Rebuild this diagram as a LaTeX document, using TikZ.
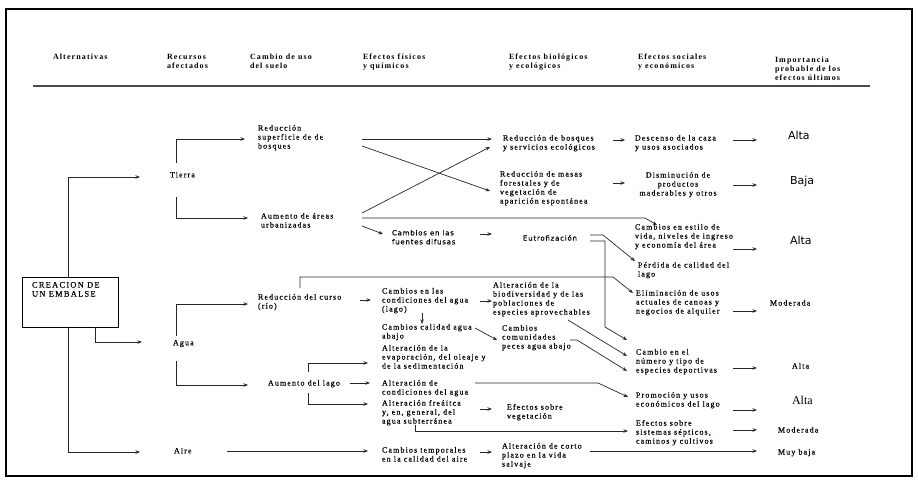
\documentclass[tikz,border=0pt]{standalone}
\usepackage{fontspec}
\setmainfont{Liberation Serif}
\newfontfamily\bodyf[LetterSpace=14,FakeBold=0.35]{Liberation Serif}
\newfontfamily\headf[LetterSpace=14]{Liberation Serif}
\newfontfamily\sansf[LetterSpace=11,FakeBold=0.3]{DejaVu Sans}
\newfontfamily\bigsansf{DejaVu Sans}
\usetikzlibrary{arrows.meta}
\begin{document}
\begin{tikzpicture}[x=1pt,y=-1pt,
  txt/.style={inner sep=0pt, outer sep=0pt, anchor=north west, align=left, font=\bodyf\fontsize{8}{9}\selectfont},
  hd/.style={txt, font=\headf\bfseries\fontsize{8}{9}\selectfont},
  sans/.style={txt, font=\sansf\fontsize{7}{9}\selectfont},
  bigsans/.style={txt, font=\bigsansf\fontsize{11}{13}\selectfont},
  bigserif/.style={txt, font=\rmfamily\fontsize{12}{14}\selectfont},
  ln/.style={line width=0.7pt, draw=black!85},
  arr/.style={ln, -{Stealth[length=4.5pt,width=3.5pt]}},
]
\useasboundingbox (0,0) rectangle (918,481);
\draw[line width=1.3pt] (6,9) rectangle (912,476);

% headers
\node[hd] (h1) at (53,54) {Alternativas};
\node[hd] (h2) at (167,54) {Recursos\\afectados};
\node[hd] (h3) at (250,54) {Cambio de uso\\del suelo};
\node[hd] (h4) at (363,54) {Efectos físicos\\y químicos};
\node[hd] (h5) at (509,54) {Efectos biológicos\\y ecológicos};
\node[hd] (h6) at (638,54) {Efectos sociales\\y económicos};
\node[hd] (h7) at (775,57) {Importancia\\probable de los\\efectos últimos};
\coordinate (rl) at (33,86);
\coordinate (rr) at (870,86);
\draw[line width=1.6pt, black!70] (rl) -- (rr);

% main box
\node[draw, line width=0.9pt, minimum width=96pt, minimum height=50pt, inner sep=0pt] (box) at (70,302) {};
\node[txt, font=\bodyf\fontsize{8.5}{9}\selectfont] (boxt) at (32,282) {CREACION DE\\UN EMBALSE};

% resources
\node[txt] (tierra) at (170,172) {Tierra};
\node[txt] (agua) at (173,340) {Agua};
\node[txt] (aire) at (174,448) {Aire};

% land use
\node[txt] (redsup) at (258,125) {Reducción\\superficie de de\\bosques};
\node[txt] (aumurb) at (261,213) {Aumento de áreas\\urbanizadas};
\node[txt] (redcur) at (258,294) {Reducción del curso\\(río)};
\node[txt] (aumlago) at (268,380) {Aumento del lago};

% physical
\node[sans] (fuentes) at (392,230) {Cambios en las\\fuentes difusas};
\node[txt] (condag) at (382,288) {Cambios en las\\condiciones del agua\\(lago)};
\node[txt] (calag) at (382,324) {Cambios calidad agua\\abajo};
\node[txt] (evap) at (382,345) {Alteración de la\\evaporación, del oleaje y\\de la sedimentación};
\node[txt] (altcond) at (382,380) {Alteración de\\condiciones del agua};
\node[txt] (freat) at (382,400) {Alteración freáitca\\y, en, general, del\\agua subterránea};
\node[txt] (temp) at (382,447) {Cambios temporales\\en la calidad del aire};

% biological
\node[txt] (redbos) at (503,135) {Reducción de bosques\\y servicios ecológicos};
\node[txt] (redmas) at (500,171) {Reducción de masas\\forestales y de\\vegetación de\\aparición espontánea};
\node[sans] (eutro) at (523,235) {Eutrofización};
\node[txt] (biod) at (493,282) {Alteración de la\\biodiversidad y de las\\poblaciones de\\especies aprovechables};
\node[txt] (peces) at (502,325) {Cambios\\comunidades\\peces agua abajo};
\node[txt] (efveg) at (507,404) {Efectos sobre\\vegetación};
\node[txt] (corto) at (502,443) {Alteración de corto\\plazo en la vida\\salvaje};

% social
\node[txt] (desc) at (635,135) {Descenso de la caza\\y usos asociados};
\node[txt, align=center, anchor=north] (dism) at (678,172) {Disminución de\\productos\\maderables y otros};
\node[txt] (estilo) at (635,224) {Cambios en estilo de\\vida, niveles de ingreso\\y economía del área};
\node[txt] (perd) at (638,262) {Pérdida de calidad del\\lago};
\node[txt] (elim) at (636,290) {Eliminación de usos\\actuales de canoas y\\negocios de alquiler};
\node[txt] (cambnum) at (636,349) {Cambio en el\\número y tipo de\\especies deportivas};
\node[txt] (promo) at (636,392) {Promoción y usos\\económicos del lago};
\node[txt] (efsep) at (636,420) {Efectos sobre\\sistemas sépticos,\\caminos y cultivos};

% importance
\node[bigsans] (alta1) at (788,131) {Alta};
\node[bigsans] (baja) at (790,176) {Baja};
\node[bigsans] (alta2) at (790,236) {Alta};
\node[txt] (mod1) at (770,300) {Moderada};
\node[txt] (alta3) at (792,363) {Alta};
\node[bigserif] (alta4) at (792,396) {Alta};
\node[txt] (mod2) at (778,427) {Moderada};
\node[txt] (muyb) at (778,449) {Muy baja};

% ---------- connectors ----------
\coordinate (trk) at (68,300);
\coordinate (trk2) at (95,300);
\coordinate (tT) at (140,177);
\coordinate (tA) at (142,342);
\coordinate (tR) at (140,452);
\draw[arr] (box.north -| trk) |- (tT);
\draw[arr] (box.south -| trk) |- (tR);
\draw[arr] (box.south -| trk2) |- (tA);

\coordinate (t1) at (176,163); \coordinate (t1e) at (245,139);
\coordinate (t2) at (176,197); \coordinate (t2e) at (248,218);
\coordinate (a1) at (176,336); \coordinate (a1e) at (248,304);
\coordinate (a2) at (176,361); \coordinate (a2e) at (248,385);
\draw[arr] (t1) |- (t1e);
\draw[arr] (t2) |- (t2e);
\draw[arr] (a1) |- (a1e);
\draw[arr] (a2) |- (a2e);

% from Reducción superficie / Aumento áreas
\coordinate (rs1) at (362,139); \coordinate (rs1e) at (492,139);
\coordinate (rs2) at (362,146); \coordinate (rs2e) at (490,191);
\coordinate (au1) at (362,213); \coordinate (au1e) at (490,147);
\coordinate (au2) at (362,218); \coordinate (au2m) at (645,218); \coordinate (au2e) at (657,225);
\coordinate (au3) at (362,226); \coordinate (au3e) at (383,234);
\draw[arr] (rs1) -- (rs1e);
\draw[arr] (rs2) -- (rs2e);
\draw[arr] (au1) -- (au1e);
\draw[arr] (au2) -- (au2m) -- (au2e);
\draw[arr] (au3) -- (au3e);
\coordinate (fu1) at (480,234); \coordinate (fu1e) at (492,234);
\draw[arr] (fu1) -- (fu1e);

% Eutrofización
\coordinate (eu1) at (590,235); \coordinate (eu1m) at (603,235); \coordinate (eu1e) at (635,261);
\coordinate (eu2) at (590,241); \coordinate (eu2m) at (605,241); \coordinate (eu2n) at (605,327); \coordinate (eu2e) at (627,340);
\draw[arr] (eu1) -- (eu1m) -- (eu1e);
\draw[arr] (eu2) -- (eu2m) -- (eu2n) -- (eu2e);

% short row arrows
\foreach \a/\b/\y in {613/625/140, 733/757/140, 613/625/183, 733/757/185, 733/757/249, 733/757/311, 733/757/368, 733/757/410, 733/757/430}
  \draw[arr] (\a,\y) -- (\b,\y);

% Reducción del curso
\coordinate (rc1) at (300,288); \coordinate (rc1a) at (300,277); \coordinate (rc1b) at (613,277); \coordinate (rc1e) at (633,293);
\draw[arr] (rc1) -- (rc1a) -- (rc1b) -- (rc1e);
\coordinate (rc2) at (360,300); \coordinate (rc2e) at (371,300);
\draw[arr] (rc2) -- (rc2e);
\coordinate (cd1) at (480,301); \coordinate (cd1e) at (492,301);
\draw[arr] (cd1) -- (cd1e);
\coordinate (cd2) at (422,313); \coordinate (cd2e) at (422,324);
\draw[arr] (cd2) -- (cd2e);
\coordinate (ca1) at (475,328); \coordinate (ca1e) at (497,340);
\draw[arr] (ca1) -- (ca1e);
\coordinate (pc1) at (570,340); \coordinate (pc1m) at (577,340); \coordinate (pc1e) at (627,371);
\draw[arr] (pc1) -- (pc1m) -- (pc1e);
\coordinate (bd1) at (568,320); \coordinate (bd1e) at (627,356);
\draw[arr] (bd1) -- (bd1e);

% Aumento del lago
\coordinate (al1) at (350,383); \coordinate (al1e) at (370,383);
\draw[arr] (al1) -- (al1e);
\coordinate (br1) at (308,372); \coordinate (br1e) at (368,363);
\coordinate (br2) at (308,393); \coordinate (br2e) at (368,404);
\draw[arr] (br1) |- (br1e);
\draw[arr] (br2) |- (br2e);
\coordinate (ac1) at (475,383); \coordinate (ac1m) at (598,383); \coordinate (ac1e) at (628,397);
\draw[arr] (ac1) -- (ac1m) -- (ac1e);
\coordinate (fr1) at (480,409); \coordinate (fr1e) at (492,409);
\draw[arr] (fr1) -- (fr1e);
\coordinate (fr2) at (415,425); \coordinate (fr2e) at (628,431);
\draw[arr] (fr2) |- (fr2e);

% Aire
\coordinate (ai1) at (227,451); \coordinate (ai1e) at (368,451);
\draw[arr] (ai1) -- (ai1e);
\coordinate (tm1) at (480,452); \coordinate (tm1e) at (492,452);
\draw[arr] (tm1) -- (tm1e);
\coordinate (co1) at (590,451); \coordinate (co1e) at (757,451);
\draw[arr] (co1) -- (co1e);
\end{tikzpicture}
\end{document}
